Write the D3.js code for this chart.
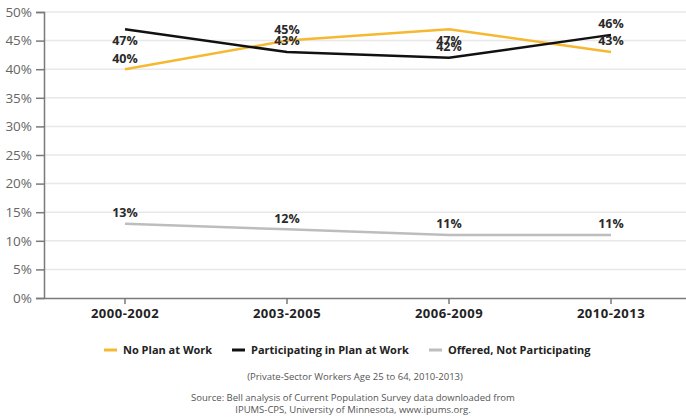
<!DOCTYPE html>
<html>
<head>
<meta charset="utf-8">
<script src="https://cdn.jsdelivr.net/npm/d3@7"></script>
<style>
  html, body { margin: 0; padding: 0; background: #fff; }
  svg { display: block; font-family: "Open Sans", "Noto Sans", sans-serif; }
</style>
</head>
<body>
<svg id="chart" width="686" height="419"></svg>
<script>
// Retirement plan status by period
const periods = ["2000-2002", "2003-2005", "2006-2009", "2010-2013"];
const noPlan = [40, 45, 47, 43];
const participating = [47, 43, 42, 46];
const offeredNot = [13, 12, 11, 11];
const yTicks = [0, 5, 10, 15, 20, 25, 30, 35, 40, 45, 50];

// label placement: -1 above the point, +1 below it
const noPlanLabelSide = [-1, -1, 1, -1];
const participatingLabelSide = [1, -1, -1, -1];
const offeredLabelSide = [-1, -1, -1, -1];

const series = [
  { name: "No Plan at Work", values: noPlan, sides: noPlanLabelSide, color: "#f6b830" },
  { name: "Participating in Plan at Work", values: participating, sides: participatingLabelSide, color: "#111111" },
  { name: "Offered, Not Participating", values: offeredNot, sides: offeredLabelSide, color: "#bdbdbd" }
];

const svg = d3.select("#chart");
const plotLeft = 44, plotRight = 692, plotTop = 12, plotBottom = 298;

const x = d3.scaleBand().domain(periods).range([plotLeft, plotRight]);
const y = d3.scaleLinear().domain([0, 50]).range([plotBottom, plotTop]);
const cx = d => x(d) + x.bandwidth() / 2;

// gridlines
svg.append("g")
  .selectAll("line")
  .data(yTicks.filter(t => t > 0))
  .join("line")
  .attr("x1", plotLeft).attr("x2", 686)
  .attr("y1", d => y(d)).attr("y2", d => y(d))
  .attr("stroke", "#e8e8e8").attr("stroke-width", 1.5);

// y axis
const yAxis = svg.append("g")
  .attr("transform", `translate(${plotLeft},0)`)
  .call(d3.axisLeft(y).tickValues(yTicks).tickFormat(d => d + "%").tickSize(8).tickPadding(4));
yAxis.select(".domain").attr("stroke", "#7a7a7a").attr("stroke-width", 1.5);
yAxis.selectAll(".tick line").attr("stroke", "#7a7a7a").attr("stroke-width", 1.5);
yAxis.selectAll(".tick text")
  .attr("fill", "#666").attr("font-size", 13.5).attr("font-family", "Open Sans, sans-serif");

// x axis
const xAxis = svg.append("g")
  .attr("transform", `translate(0,${plotBottom})`)
  .call(d3.axisBottom(x).tickSize(6).tickSizeOuter(0).tickPadding(5));
xAxis.select(".domain").attr("stroke", "#7a7a7a").attr("stroke-width", 1.5);
xAxis.selectAll(".tick line").attr("stroke", "#7a7a7a").attr("stroke-width", 1.5);
xAxis.selectAll(".tick text")
  .attr("fill", "#222").attr("font-size", 13).attr("font-weight", 700)
  .attr("letter-spacing", 0.5)
  .attr("font-family", "Open Sans, sans-serif");

// lines
const line = d3.line().x((d, i) => cx(periods[i])).y(d => y(d));
svg.append("g")
  .selectAll("path")
  .data(series)
  .join("path")
  .attr("d", s => line(s.values))
  .attr("fill", "none")
  .attr("stroke", s => s.color)
  .attr("stroke-width", 2.5);

// value labels
series.forEach(s => {
  svg.append("g")
    .selectAll("text")
    .data(s.values)
    .join("text")
    .attr("x", (d, i) => cx(periods[i]))
    .attr("y", (d, i) => y(d) + s.sides[i] * 11)
    .attr("dy", "0.35em")
    .attr("text-anchor", "middle")
    .attr("font-size", 12.5)
    .attr("font-weight", 700)
    .attr("fill", "#2a2a2a")
    .text(d => d + "%");
});

// legend
const legendItems = [
  { x: 104, tx: 123 },
  { x: 232, tx: 251 },
  { x: 429, tx: 448 }
];
const legend = svg.append("g");
series.forEach((s, i) => {
  const g = legend.append("g");
  g.append("line")
    .attr("x1", legendItems[i].x).attr("x2", legendItems[i].x + 13)
    .attr("y1", 350).attr("y2", 350)
    .attr("stroke", s.color).attr("stroke-width", 3);
  g.append("text")
    .attr("x", legendItems[i].tx).attr("y", 350).attr("dy", "0.35em")
    .attr("font-size", 11).attr("font-weight", 700).attr("fill", "#222")
    .text(s.name);
});

// notes
const notes = svg.append("g").attr("fill", "#555").attr("font-size", 9.5).attr("text-anchor", "middle");
notes.append("text").attr("x", 355).attr("y", 377).attr("dy", "0.35em")
  .text("(Private-Sector Workers Age 25 to 64, 2010-2013)");
notes.append("text").attr("x", 353).attr("y", 398).attr("dy", "0.35em")
  .text("Source: Bell analysis of Current Population Survey data downloaded from");
notes.append("text").attr("x", 353).attr("y", 410).attr("dy", "0.35em")
  .text("IPUMS-CPS, University of Minnesota, www.ipums.org.");
</script>
</body>
</html>
